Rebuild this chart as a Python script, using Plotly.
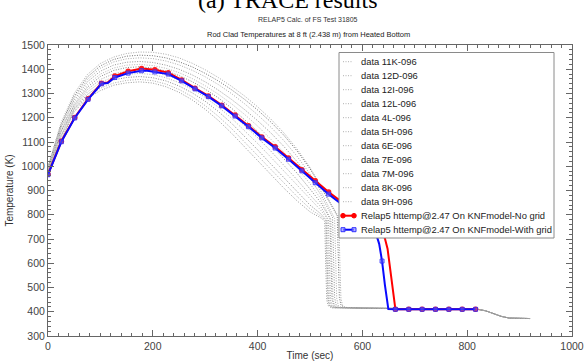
import plotly.graph_objects as go

# ---------------- data ----------------
series_names = ["data 11K-096", "data 12D-096", "data 12I-096", "data 12L-096",
                "data 4L-096", "data 5H-096", "data 6E-096", "data 7E-096",
                "data 7M-096", "data 8K-096", "data 9H-096"]
red_name = "Relap5 httemp@2.47 On KNFmodel-No grid"
blue_name = "Relap5 httemp@2.47 On KNFmodel-With grid"

gray_t = [0, 10, 25, 50, 75, 100, 125, 150, 175, 200, 225, 250, 275, 300,
          325, 350, 375, 400, 425, 450, 475, 500, 520]
gray_T = [
    [1000, 1075, 1180, 1300, 1378, 1424, 1450, 1465, 1471, 1470, 1462, 1447, 1425, 1398, 1366, 1330, 1290, 1245, 1195, 1138, 1072, 995, 920],
    [995, 1068, 1172, 1290, 1368, 1414, 1440, 1454, 1458, 1456, 1447, 1431, 1410, 1383, 1352, 1316, 1276, 1232, 1183, 1128, 1064, 990, 918],
    [990, 1062, 1165, 1282, 1358, 1404, 1430, 1443, 1447, 1444, 1434, 1418, 1396, 1369, 1337, 1300, 1258, 1212, 1162, 1106, 1042, 968, 900],
    [985, 1055, 1158, 1272, 1348, 1392, 1417, 1429, 1432, 1428, 1417, 1400, 1377, 1348, 1314, 1276, 1234, 1188, 1138, 1082, 1020, 950, 885],
    [982, 1050, 1150, 1262, 1336, 1380, 1405, 1417, 1420, 1415, 1404, 1386, 1362, 1332, 1297, 1258, 1214, 1166, 1114, 1058, 996, 928, 868],
    [978, 1045, 1143, 1253, 1326, 1370, 1395, 1407, 1410, 1405, 1393, 1374, 1349, 1318, 1282, 1240, 1194, 1144, 1090, 1033, 972, 906, 852],
    [975, 1040, 1136, 1246, 1316, 1358, 1381, 1392, 1395, 1390, 1377, 1357, 1331, 1299, 1261, 1218, 1170, 1118, 1063, 1005, 945, 882, 835],
    [972, 1035, 1128, 1240, 1306, 1346, 1368, 1379, 1383, 1378, 1365, 1345, 1318, 1284, 1244, 1199, 1148, 1094, 1038, 980, 921, 862, 820],
    [968, 1030, 1120, 1236, 1296, 1334, 1356, 1366, 1370, 1365, 1352, 1331, 1303, 1268, 1226, 1178, 1125, 1068, 1010, 952, 895, 840, 805],
    [965, 1025, 1112, 1230, 1288, 1322, 1343, 1354, 1358, 1353, 1339, 1317, 1287, 1250, 1206, 1156, 1101, 1044, 988, 932, 876, 825, 795],
    [960, 1020, 1105, 1225, 1280, 1312, 1334, 1344, 1348, 1343, 1328, 1305, 1274, 1235, 1189, 1137, 1080, 1021, 965, 910, 858, 812, 788],
]
# quench: bend point, then steep drop to the post-quench level
quench_t = [[555, 557, 559, 562, 568], [552, 554, 556, 559, 565], [547, 549, 551, 554, 560],
            [543, 545, 547, 550, 556], [540, 542, 544, 547, 553], [538, 540, 542, 545, 551],
            [535, 537, 539, 542, 548], [533, 535, 537, 540, 546], [531, 533, 535, 538, 544],
            [530, 532, 534, 537, 543], [528, 530, 532, 535, 541]]
quench_T = [[790, 600, 455, 426, 418], [795, 610, 460, 428, 418], [785, 600, 455, 426, 417],
            [790, 605, 458, 427, 418], [780, 598, 452, 425, 417], [785, 600, 455, 426, 418],
            [780, 596, 452, 425, 417], [782, 598, 454, 426, 418], [778, 595, 450, 424, 417],
            [776, 594, 450, 424, 417], [775, 592, 448, 424, 416]]
tail_t = [600, 700, 820, 835, 850, 865, 880, 920]
tail_T = [415, 412, 410, 404, 393, 381, 374, 372]
gray_colors = ["#a8a8a8", "#707070", "#acacac", "#939393", "#b8b8b8", "#858585",
               "#a2a2a2", "#b2b2b2", "#8c8c8c", "#adadad", "#9a9a9a"]

mk_t = [0, 25.5, 51, 76.5, 102, 127.5, 153, 178.5, 204, 229.5, 255, 280.5, 306,
        331.5, 357, 382.5, 408, 433.5, 459, 484.5, 510, 535.5, 561, 586.5, 612,
        637.5, 663, 688.5, 714, 739.5, 765, 790.5, 816]
red_mk = [967, 1103, 1201, 1278, 1342, 1372, 1392, 1403, 1398, 1386, 1356, 1322, 1290,
          1252, 1211, 1167, 1121, 1080, 1034, 986, 940, 894, 852, 810, 770,
          730, 410, 410, 410, 410, 410, 410, 410]
red_extra_t = [114, 190, 643, 648, 652, 656, 660]
red_extra_T = [1345, 1402, 702, 660, 590, 520, 460]
blue_mk = [965, 1101, 1199, 1276, 1340, 1366, 1384, 1394, 1389, 1380, 1352, 1319, 1287,
           1249, 1207, 1163, 1117, 1075, 1029, 981, 932, 885, 842, 801, 762,
           609, 410, 410, 410, 410, 410, 410, 410]
blue_extra_t = [114, 190, 620, 626, 632, 643, 647, 649.5]
blue_extra_T = [1343, 1394, 745, 722, 680, 510, 434, 411]

# ---------------- figure ----------------
fig = go.Figure()

for i, name in enumerate(series_names):
    xs = gray_t + quench_t[i] + tail_t
    ys = gray_T[i] + quench_T[i] + tail_T
    fig.add_trace(go.Scatter(x=xs, y=ys, mode="lines", name=name,
                             line=dict(color=gray_colors[i], width=1, dash="1px,1.5px")))

def merged(mt, mv, et, ev):
    pts = sorted(zip(list(mt) + list(et), list(mv) + list(ev)))
    return [p[0] for p in pts], [p[1] for p in pts]

rx, ry = merged(mk_t, red_mk, red_extra_t, red_extra_T)
bx, by = merged(mk_t, blue_mk, blue_extra_t, blue_extra_T)

fig.add_trace(go.Scatter(x=rx, y=ry, mode="lines", name=red_name,
                         line=dict(color="#ff0000", width=2)))
fig.add_trace(go.Scatter(x=mk_t, y=red_mk, mode="markers", name=red_name,
                         marker=dict(symbol="circle", size=5.5, color="#ff1a1a")))
fig.add_trace(go.Scatter(x=bx, y=by, mode="lines", name=blue_name,
                         line=dict(color="#0a0aff", width=2)))
fig.add_trace(go.Scatter(x=mk_t, y=blue_mk, mode="markers", name=blue_name,
                         marker=dict(symbol="square", size=4, color="rgba(120,110,240,0.45)",
                                     line=dict(color="rgba(40,40,255,0.8)", width=1))))

# plot area geometry in pixels (for the hand-made legend box)
W, H = 584, 361
ml, mr, mt_, mb = 48, 12, 45, 25
pw, ph = W - ml - mr, H - mt_ - mb

def px(x):
    return (x - ml) / pw

def py(y):
    return (H - mb - y) / ph

shapes = [dict(type="rect", xref="paper", yref="paper",
               x0=px(339), x1=px(554), y0=py(238), y1=py(52.5),
               fillcolor="white", line=dict(color="#8a8a8a", width=1), layer="above")]
annotations = []
legend_names = series_names + [red_name, blue_name]
for i, name in enumerate(legend_names):
    yy = 61.7 + 14 * i
    if i < len(series_names):
        shapes.append(dict(type="line", xref="paper", yref="paper",
                           x0=px(343), x1=px(353), y0=py(yy), y1=py(yy),
                           line=dict(color="#b0b0b0", width=1, dash="1px,1.5px"), layer="above"))
    else:
        col = "#ff0000" if name == red_name else "#0000ff"
        shapes.append(dict(type="line", xref="paper", yref="paper",
                           x0=px(343), x1=px(354), y0=py(yy), y1=py(yy),
                           line=dict(color=col, width=2), layer="above"))
        for cx in (343, 354):
            if name == red_name:
                shapes.append(dict(type="circle", xref="paper", yref="paper",
                                   x0=px(cx - 2.3), x1=px(cx + 2.3), y0=py(yy + 2.3), y1=py(yy - 2.3),
                                   fillcolor="#ff0000", line=dict(color="#ff0000", width=1), layer="above"))
            else:
                shapes.append(dict(type="rect", xref="paper", yref="paper",
                                   x0=px(cx - 2), x1=px(cx + 2), y0=py(yy + 2), y1=py(yy - 2),
                                   fillcolor="rgba(150,150,255,0.7)", line=dict(color="#3030ff", width=1), layer="above"))
    annotations.append(dict(text=name, xref="paper", yref="paper", x=px(359), y=py(yy),
                            xanchor="left", yanchor="middle", showarrow=False,
                            font=dict(family="Liberation Sans, Arial, sans-serif", size=9.4, color="#222")))

annotations += [
    dict(text="(a) TRACE results", xref="paper", yref="paper", x=px(288), y=py(0),
         xanchor="center", yanchor="middle", showarrow=False,
         font=dict(family="Liberation Serif, Times New Roman, serif", size=24, color="#000")),
    dict(text="RELAP5 Calc. of FS Test 31805", xref="paper", yref="paper", x=px(308), y=py(19),
         xanchor="center", yanchor="middle", showarrow=False,
         font=dict(family="Liberation Sans, Arial, sans-serif", size=7, color="#333")),
    dict(text="Rod Clad Temperatures at 8 ft (2.438 m) from Heated Bottom", xref="paper", yref="paper",
         x=px(308), y=py(35), xanchor="center", yanchor="middle", showarrow=False,
         font=dict(family="Liberation Sans, Arial, sans-serif", size=7.5, color="#222")),
]

axis_common = dict(showline=True, linecolor="#666", linewidth=1, mirror="ticks",
                   ticks="inside", ticklen=6, tickcolor="#666", showgrid=False, zeroline=False,
                   automargin=False,
                   tickfont=dict(family="Liberation Sans, Arial, sans-serif", size=10.5, color="#444"))

fig.update_layout(
    width=W, height=H, margin=dict(l=ml, r=mr, t=mt_, b=mb),
    paper_bgcolor="white", plot_bgcolor="white", showlegend=False,
    font=dict(family="Liberation Sans, Arial, sans-serif", size=10, color="#333"),
    xaxis=dict(range=[0, 1000], tick0=0, dtick=200,
               minor=dict(ticks="inside", ticklen=3, dtick=20, tickcolor="#666"),
               title=dict(text="Time (sec)", standoff=2, font=dict(size=10, color="#333")),
               **axis_common),
    yaxis=dict(range=[300, 1500], tick0=300, dtick=100,
               minor=dict(ticks="inside", ticklen=3, dtick=20, tickcolor="#666"),
               title=dict(text="Temperature (K)", standoff=6, font=dict(size=10, color="#333")),
               **axis_common),
    shapes=shapes, annotations=annotations,
)

fig.write_html("out.html")
